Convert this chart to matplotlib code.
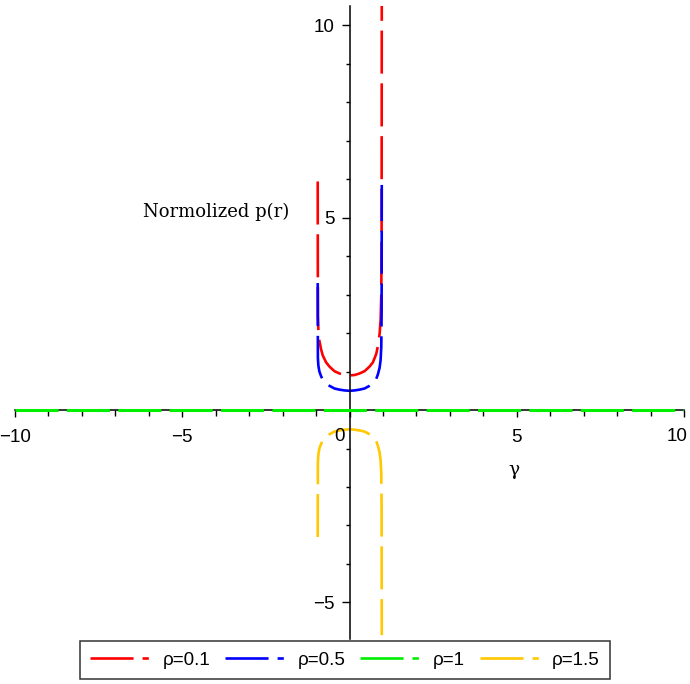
import numpy as np
import matplotlib
matplotlib.use("Agg")
import matplotlib.pyplot as plt
from matplotlib.lines import Line2D
from matplotlib.ticker import MultipleLocator, FixedLocator

plt.rcParams['font.family'] = ['Liberation Sans', 'DejaVu Sans']
plt.rcParams['lines.scale_dashes'] = False

# sample points in r, shared by the three finite curves
r = [-0.95, -0.945, -0.93, -0.90, -0.85, -0.80, -0.70, -0.60, -0.45, -0.30, -0.15, 0.0,
     0.15, 0.30, 0.45, 0.60, 0.70, 0.80, 0.85, 0.90, 0.93, 0.95, 0.96, 0.965]

p_rho01 = [5.94, 2.43, 2.07, 1.80, 1.58, 1.42, 1.24, 1.13, 1.01, 0.95, 0.91, 0.90,
           0.91, 0.95, 1.01, 1.13, 1.24, 1.46, 1.67, 1.98, 2.34, 2.97, 4.50, 10.6]
p_rho05 = [3.30, 1.35, 1.15, 1.00, 0.88, 0.79, 0.69, 0.63, 0.56, 0.53, 0.51, 0.50,
           0.51, 0.53, 0.56, 0.63, 0.69, 0.81, 0.93, 1.10, 1.30, 1.65, 2.50, 5.85]
p_rho15 = [-3.30, -1.35, -1.15, -1.00, -0.88, -0.79, -0.69, -0.63, -0.56, -0.53, -0.51, -0.50,
           -0.51, -0.53, -0.56, -0.63, -0.69, -0.81, -0.93, -1.10, -1.30, -1.65, -2.50, -5.85]

# rho = 1 is zero over the whole range
r_flat = [-10, 10]
p_rho1 = [0, 0]

labels = ['ρ=0.1', 'ρ=0.5', 'ρ=1', 'ρ=1.5']
colors = ['#ff0000', '#0000ff', '#00f000', '#ffc800']

fig = plt.figure(figsize=(6.9, 6.84), dpi=100)
ax = fig.add_axes([15 / 690, 45 / 684, 669 / 690, 633 / 684])

dash = (31, 7)
ax.plot(r, p_rho01, color=colors[0], lw=1.9, dashes=dash)
ax.plot(r, p_rho05, color=colors[1], lw=1.9, dashes=dash)
ax.plot(r_flat, p_rho1, color=colors[2], lw=2.2, dashes=(31, 6), zorder=3)
ax.plot(r, p_rho15, color=colors[3], lw=1.9, dashes=dash)

ax.set_xlim(-10, 10)
ax.set_ylim(-5.95, 10.5)

# axes crossing at the origin
for s in ['top', 'right']:
    ax.spines[s].set_visible(False)
ax.spines['left'].set_position(('data', 0))
ax.spines['bottom'].set_position(('data', 0))
ax.spines['left'].set_linewidth(1.1)
ax.spines['bottom'].set_linewidth(1.1)

ax.xaxis.set_major_locator(FixedLocator([-10, -5, 0, 5, 10]))
ax.xaxis.set_minor_locator(MultipleLocator(1))
ax.set_xticklabels(['\u221210', '\u22125', '', '5', ''])
ax.yaxis.set_major_locator(FixedLocator([-5, 5, 10]))
ax.yaxis.set_minor_locator(FixedLocator([-4, -3, -2, -1, 1, 2, 3, 4, 6, 7, 8, 9]))
ax.set_yticklabels(['\u22125', '5', '10'])

ax.tick_params(axis='x', which='major', direction='out', length=5, width=1, pad=9, labelsize=13.5)
ax.tick_params(axis='x', which='minor', direction='out', length=4, width=1)
ax.tick_params(axis='y', which='major', direction='out', length=6, width=1, pad=5, labelsize=13.5)
ax.tick_params(axis='y', which='minor', direction='out', length=3, width=1)

# labels that sit off their ticks: the origin and the right end of the axis
ax.annotate('0', xy=(0, 0), xytext=(-7, -19), textcoords='offset points',
            ha='center', va='center', fontsize=13.5)
ax.annotate('10', xy=(10, 0), xytext=(-5, -19), textcoords='offset points',
            ha='center', va='center', fontsize=13.5)

ax.text(-1.79, 5.15, 'Normolized p(r)', ha='right', va='center',
        fontsize=13, family='DejaVu Serif')
ax.text(4.93, -1.56, 'γ', ha='center', va='center', fontsize=13.5, family='DejaVu Serif')

handles = [Line2D([0], [0], color=c, lw=1.9, dashes=(31, 6.5, 4.5, 10)) for c in colors]
leg = fig.legend(handles, labels, loc='center', bbox_to_anchor=(0.5, 24 / 684), ncol=4,
                 fontsize=13.5, frameon=True, fancybox=False, edgecolor='black',
                 handlelength=3.2, handletextpad=0.65, columnspacing=0.8,
                 borderpad=0.55, borderaxespad=0)
leg.get_frame().set_linewidth(1.1)

fig.savefig('out.png', dpi=100, facecolor='white')
